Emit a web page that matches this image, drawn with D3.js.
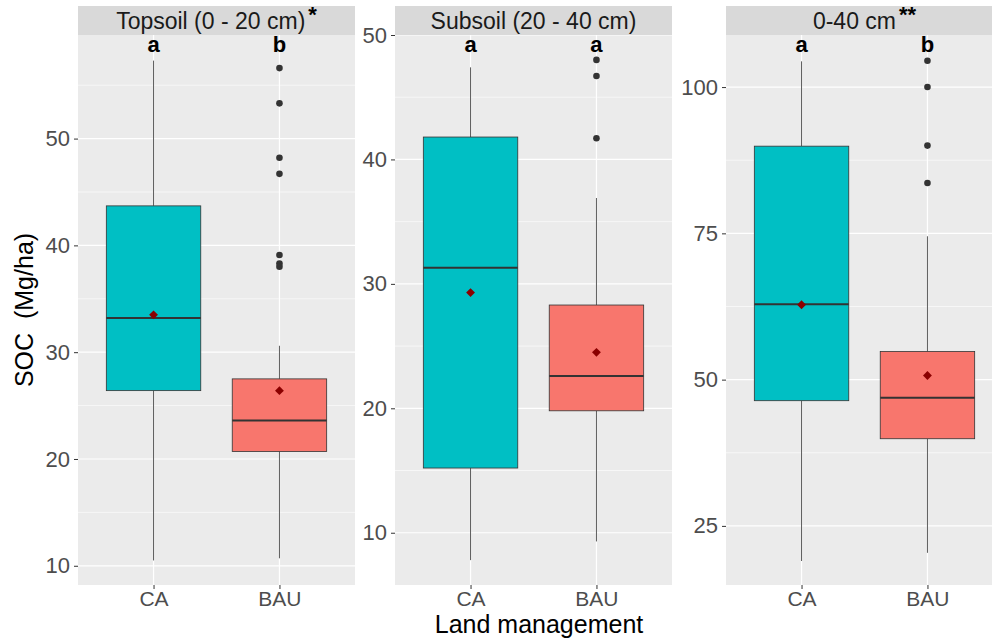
<!DOCTYPE html>
<html>
<head>
<meta charset="utf-8">
<title>SOC boxplots</title>
<script src="https://d3js.org/d3.v7.min.js"></script>
<style>
  body { margin: 0; background: #fff; }
  text { font-family: "Liberation Sans", Arial, sans-serif; }
</style>
</head>
<body>
<div id="chart"></div>
<script>
// data
const categories = ['CA', 'BAU']
const panelTitles = ['Topsoil (0 - 20 cm)', 'Subsoil (20 - 40 cm)', '0-40 cm']
const panelStars = ['*', '', '**']
const letters = [['a', 'b'], ['a', 'a'], ['a', 'b']]

const whiskerLow = [[10.5, 10.7], [7.8, 9.3], [19.0, 20.4]]
const q1 = [[26.4, 20.7], [15.2, 19.8], [46.4, 39.9]]
const median = [[33.2, 23.6], [31.3, 22.6], [62.9, 46.9]]
const q3 = [[43.7, 27.5], [41.8, 28.3], [89.9, 54.8]]
const whiskerHigh = [[57.3, 30.6], [47.4, 36.9], [104.4, 74.5]]
const means = [[33.5, 26.4], [29.3, 24.5], [62.8, 50.7]]
const outliers = [
  [[], [56.6, 53.3, 48.2, 46.7, 39.1, 38.3, 38.0]],
  [[], [48.0, 46.7, 41.7]],
  [[], [104.5, 100.0, 90.0, 83.6]]
]
const yDomains = [[8.2, 59.7], [5.8, 50.0], [14.9, 108.9]]
const yTicks = [[10, 20, 30, 40, 50], [10, 20, 30, 40, 50], [25, 50, 75, 100]]
const yMinor = [[15, 25, 35, 45, 55], [15, 25, 35, 45], [37.5, 62.5, 87.5]]

const w = 992
const h = 640
const panelLeft = [78, 395, 726]
const panelWidth = 277
const plotTop = 35
const plotBottom = 585
const stripTop = 6
const fills = { CA: '#00BFC4', BAU: '#F8766D' }

const svg = d3.select('#chart')
  .append('svg')
  .attr('width', w)
  .attr('height', h)

panelTitles.forEach((title, p) => {
  const x0 = panelLeft[p]
  const xScale = d3.scalePoint()
    .domain(categories)
    .range([x0, x0 + panelWidth])
    .padding(0.6)
  const boxW = xScale.step() * 0.75

  const yScale = d3.scaleLinear()
    .domain(yDomains[p])
    .range([plotBottom, plotTop])

  const g = svg.append('g')

  // panel background
  g.append('rect')
    .attr('x', x0).attr('y', plotTop)
    .attr('width', panelWidth).attr('height', plotBottom - plotTop)
    .attr('fill', '#ebebeb')

  // minor gridlines
  g.selectAll('.minor')
    .data(yMinor[p])
    .enter()
    .append('line')
    .attr('x1', x0).attr('x2', x0 + panelWidth)
    .attr('y1', d => yScale(d)).attr('y2', d => yScale(d))
    .attr('stroke', '#fff').attr('stroke-width', 0.6)

  // major gridlines
  g.selectAll('.major')
    .data(yTicks[p])
    .enter()
    .append('line')
    .attr('x1', x0).attr('x2', x0 + panelWidth)
    .attr('y1', d => yScale(d)).attr('y2', d => yScale(d))
    .attr('stroke', '#fff').attr('stroke-width', 1.2)

  g.selectAll('.vgrid')
    .data(categories)
    .enter()
    .append('line')
    .attr('x1', d => xScale(d)).attr('x2', d => xScale(d))
    .attr('y1', plotTop).attr('y2', plotBottom)
    .attr('stroke', '#fff').attr('stroke-width', 1.2)

  // strip
  g.append('rect')
    .attr('x', x0).attr('y', stripTop)
    .attr('width', panelWidth).attr('height', plotTop - stripTop)
    .attr('fill', '#d9d9d9')

  const strip = g.append('text')
    .attr('x', x0 + panelWidth / 2)
    .attr('y', 29)
    .attr('text-anchor', 'middle')
    .attr('font-size', '23px')
    .attr('fill', '#1a1a1a')
  strip.append('tspan').text(title)
  if (panelStars[p]) {
    strip.append('tspan')
      .attr('dy', -7)
      .attr('dx', 3)
      .attr('font-weight', 'bold')
      .attr('font-size', '22px')
      .attr('fill', '#000')
      .text(panelStars[p])
  }

  // y axis
  const yAxis = d3.axisLeft(yScale)
    .tickValues(yTicks[p])
    .tickSize(4)
    .tickPadding(4)
  const ya = g.append('g')
    .attr('transform', 'translate(' + x0 + ',0)')
    .call(yAxis)
  ya.select('.domain').remove()
  ya.selectAll('line').attr('stroke', '#333')
  ya.selectAll('text').attr('font-size', '22px').attr('fill', '#4d4d4d')
    .attr('font-family', '"Liberation Sans", Arial, sans-serif')

  // x axis
  const xAxis = d3.axisBottom(xScale)
    .tickSize(4)
    .tickPadding(2)
  const xa = g.append('g')
    .attr('transform', 'translate(0,' + plotBottom + ')')
    .call(xAxis)
  xa.select('.domain').remove()
  xa.selectAll('line').attr('stroke', '#333')
  xa.selectAll('text').attr('font-size', '21px').attr('fill', '#4d4d4d')
    .attr('font-family', '"Liberation Sans", Arial, sans-serif')

  // boxes
  categories.forEach((cat, c) => {
    const cx = xScale(cat)
    const bg = g.append('g')

    // whiskers
    bg.append('line')
      .attr('x1', cx).attr('x2', cx)
      .attr('y1', yScale(q3[p][c])).attr('y2', yScale(whiskerHigh[p][c]))
      .attr('stroke', '#333').attr('stroke-width', 0.8)
    bg.append('line')
      .attr('x1', cx).attr('x2', cx)
      .attr('y1', yScale(q1[p][c])).attr('y2', yScale(whiskerLow[p][c]))
      .attr('stroke', '#333').attr('stroke-width', 0.8)

    bg.append('rect')
      .attr('x', cx - boxW / 2)
      .attr('y', yScale(q3[p][c]))
      .attr('width', boxW)
      .attr('height', yScale(q1[p][c]) - yScale(q3[p][c]))
      .attr('fill', fills[cat])
      .attr('stroke', '#333').attr('stroke-width', 0.8)

    bg.append('line')
      .attr('x1', cx - boxW / 2).attr('x2', cx + boxW / 2)
      .attr('y1', yScale(median[p][c])).attr('y2', yScale(median[p][c]))
      .attr('stroke', '#333').attr('stroke-width', 2)

    bg.selectAll('circle')
      .data(outliers[p][c])
      .enter()
      .append('circle')
      .attr('cx', cx)
      .attr('cy', d => yScale(d))
      .attr('r', 3.3)
      .attr('fill', '#333')

    bg.append('path')
      .attr('d', d3.symbol().type(d3.symbolDiamond2).size(50)())
      .attr('transform', 'translate(' + cx + ',' + yScale(means[p][c]) + ')')
      .attr('fill', '#8b0000')

    // significance letters
    g.append('text')
      .attr('x', cx)
      .attr('y', 52)
      .attr('text-anchor', 'middle')
      .attr('font-size', '22px')
      .attr('font-weight', 'bold')
      .attr('fill', '#000')
      .text(letters[p][c])
  })
})

// axis titles
svg.append('text')
  .attr('transform', 'translate(33,' + (plotTop + plotBottom) / 2 + ') rotate(-90)')
  .attr('text-anchor', 'middle')
  .attr('font-size', '25px')
  .attr('fill', '#000')
  .attr('xml:space', 'preserve')
  .text('SOC  (Mg/ha)')

svg.append('text')
  .attr('x', 539)
  .attr('y', 633)
  .attr('text-anchor', 'middle')
  .attr('font-size', '25px')
  .attr('fill', '#000')
  .text('Land management')
</script>
</body>
</html>
